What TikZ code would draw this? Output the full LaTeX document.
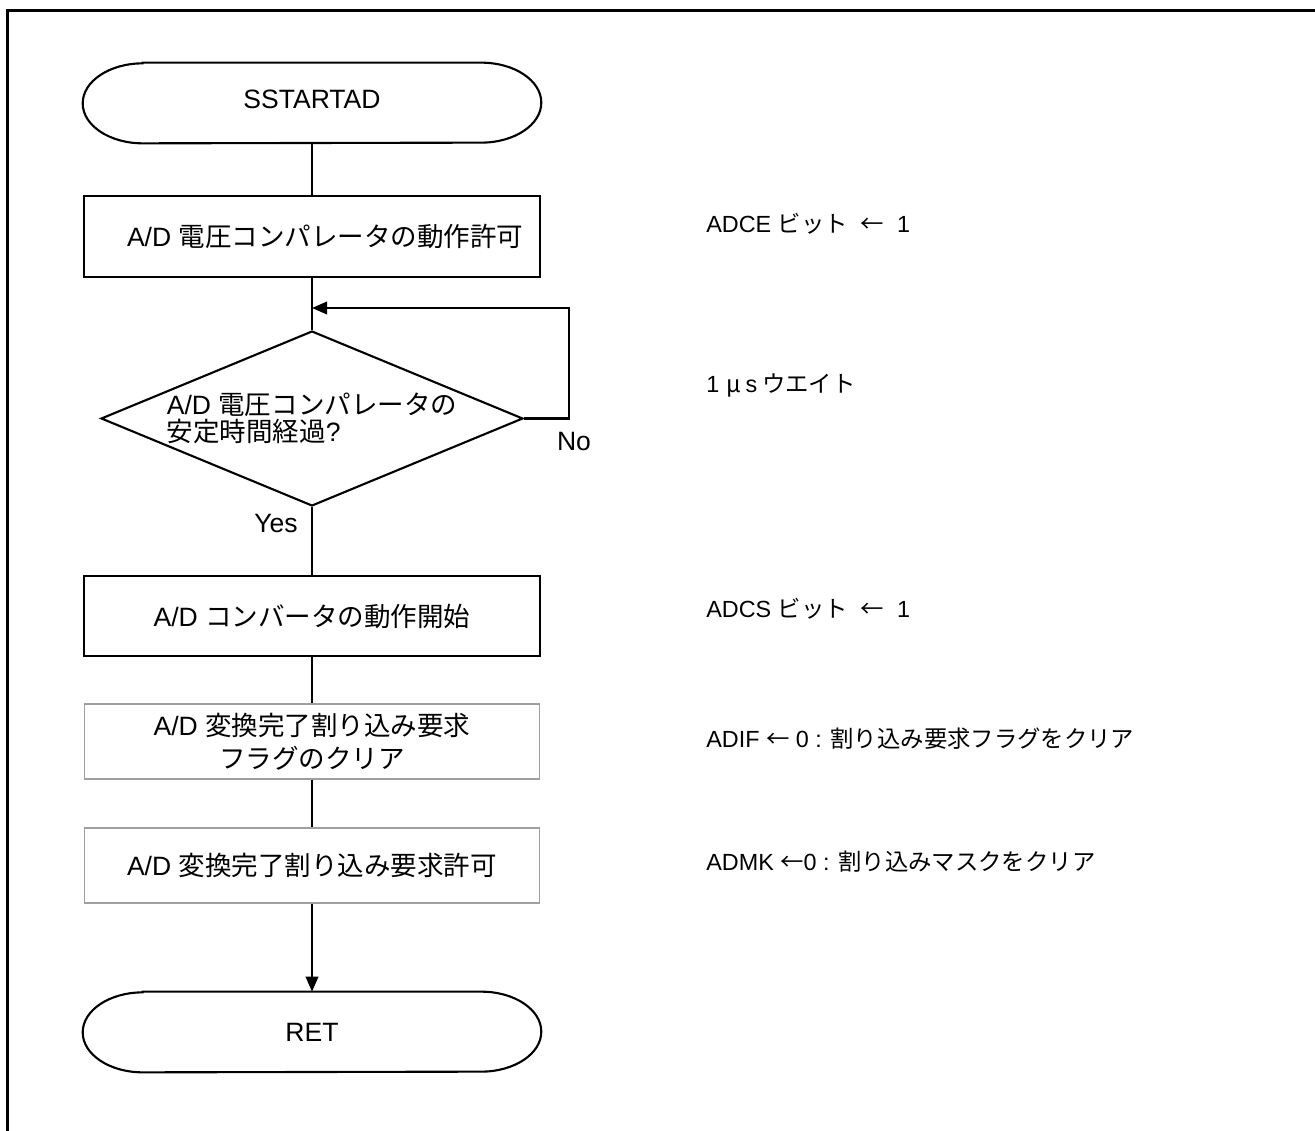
\documentclass[tikz,border=0pt]{standalone}
\usepackage{fontspec}
\setmainfont{Liberation Sans}
\newfontfamily\jp{Noto Sans CJK JP}
\usetikzlibrary{arrows.meta, positioning, shapes.geometric}

\tikzset{
  flowline/.style={line width=1.2pt},
  boxfont/.style={font=\fontsize{15.1}{19}\selectfont},
  termnode/.style={boxfont, minimum width=9.16cm, minimum height=1.6cm, inner sep=0pt},
  procbox/.style={boxfont, draw, line width=1.2pt, minimum width=9.12cm, minimum height=1.62cm, inner sep=0pt, align=center},
  thinbox/.style={procbox, draw=gray!75, line width=0.6pt, minimum height=1.5cm},
  decision/.style={diamond, draw, line width=1.2pt, inner sep=0pt, shape aspect=2.41, minimum width=8.44cm, minimum height=3.5cm, align=left, font=\fontsize{15.1}{15.5}\selectfont},
  note/.style={anchor=base west, inner sep=0pt, font=\fontsize{13.3}{16}\selectfont},
  lbl/.style={boxfont, inner sep=0pt}
}

% outline of a start/end terminal round a named node
\newcommand{\termline}[1]{%
  \draw[flowline] ([xshift=1.2cm]#1.north west) -- ([xshift=-1.2cm]#1.north east)
    arc[start angle=90, end angle=-90, x radius=1.2cm, y radius=0.8cm]
    -- ([xshift=1.2cm]#1.south west)
    arc[start angle=270, end angle=90, x radius=1.2cm, y radius=0.8cm] -- cycle;}

\begin{document}
\begin{tikzpicture}[x=0.02cm, y=-0.02cm]
  \useasboundingbox (0,0) rectangle (1315,1131);
  % frame
  \draw[line width=1.7pt] (7.5,1131) -- (7.5,10.5) -- (1315,10.5);

  % flow
  \node[termnode] (start) at (312,103) {\raisebox{4pt}{SSTARTAD}};
  \termline{start}
  \node[procbox] (act1) at (312,236.5) {{\jp 　}A/D {\jp 電圧コンパレータの動作許可}};
  \node[decision] (chk) at (312,418.5) {A/D {\jp 電圧コンパレータの}\\{\jp 安定時間経過}?};
  \coordinate (merge) at (312,308);
  \node[procbox, minimum height=1.6cm] (act2) at (312,616) {A/D {\jp コンバータの動作開始}};
  \node[thinbox] (act3) at (312,741.5) {A/D {\jp 変換完了割り込み要求}\\{\jp フラグのクリア}};
  \node[thinbox] (act4) at (312,865.5) {A/D {\jp 変換完了割り込み要求許可}};
  \node[termnode] (ret) at (312,1032) {RET};
  \termline{ret}

  % connectors
  \draw[flowline] (start) -- (act1);
  \draw[flowline] (act1) -- (chk);
  \draw[flowline, -{Triangle[length=3mm, width=2.5mm]}] (chk.east) -- ++(45,0) |- (merge);
  \draw[flowline] (chk) -- (act2);
  \draw[flowline] (act2) -- (act3);
  \draw[flowline] (act3) -- (act4);
  \draw[flowline, -{Triangle[length=3mm, width=2.5mm]}] (act4) -- (ret);

  \node[lbl] (no) at (574,442) {No};
  \node[lbl] (yes) at (276,524) {Yes};

  % notes
  \node[note] (nADCE) at (706,233) {ADCE {\jp ビット}\ \ {\jp ←}\ \ 1};
  \node[note] (nwait) at (706,393) {1\hspace{0.3em}{\jp μ}\hspace{0.2em}s\hspace{0.2em}{\jp ウエイト}};
  \node[note] (nADCS) at (706,617) {ADCS {\jp ビット}\ \ {\jp ←}\ \ 1};
  \node[note] (nADIF) at (706,747) {ADIF {\jp ←} 0 : {\jp 割り込み要求フラグをクリア}};
  \node[note] (nADMK) at (706,870) {ADMK {\jp ←}0 : {\jp 割り込みマスクをクリア}};
\end{tikzpicture}
\end{document}
